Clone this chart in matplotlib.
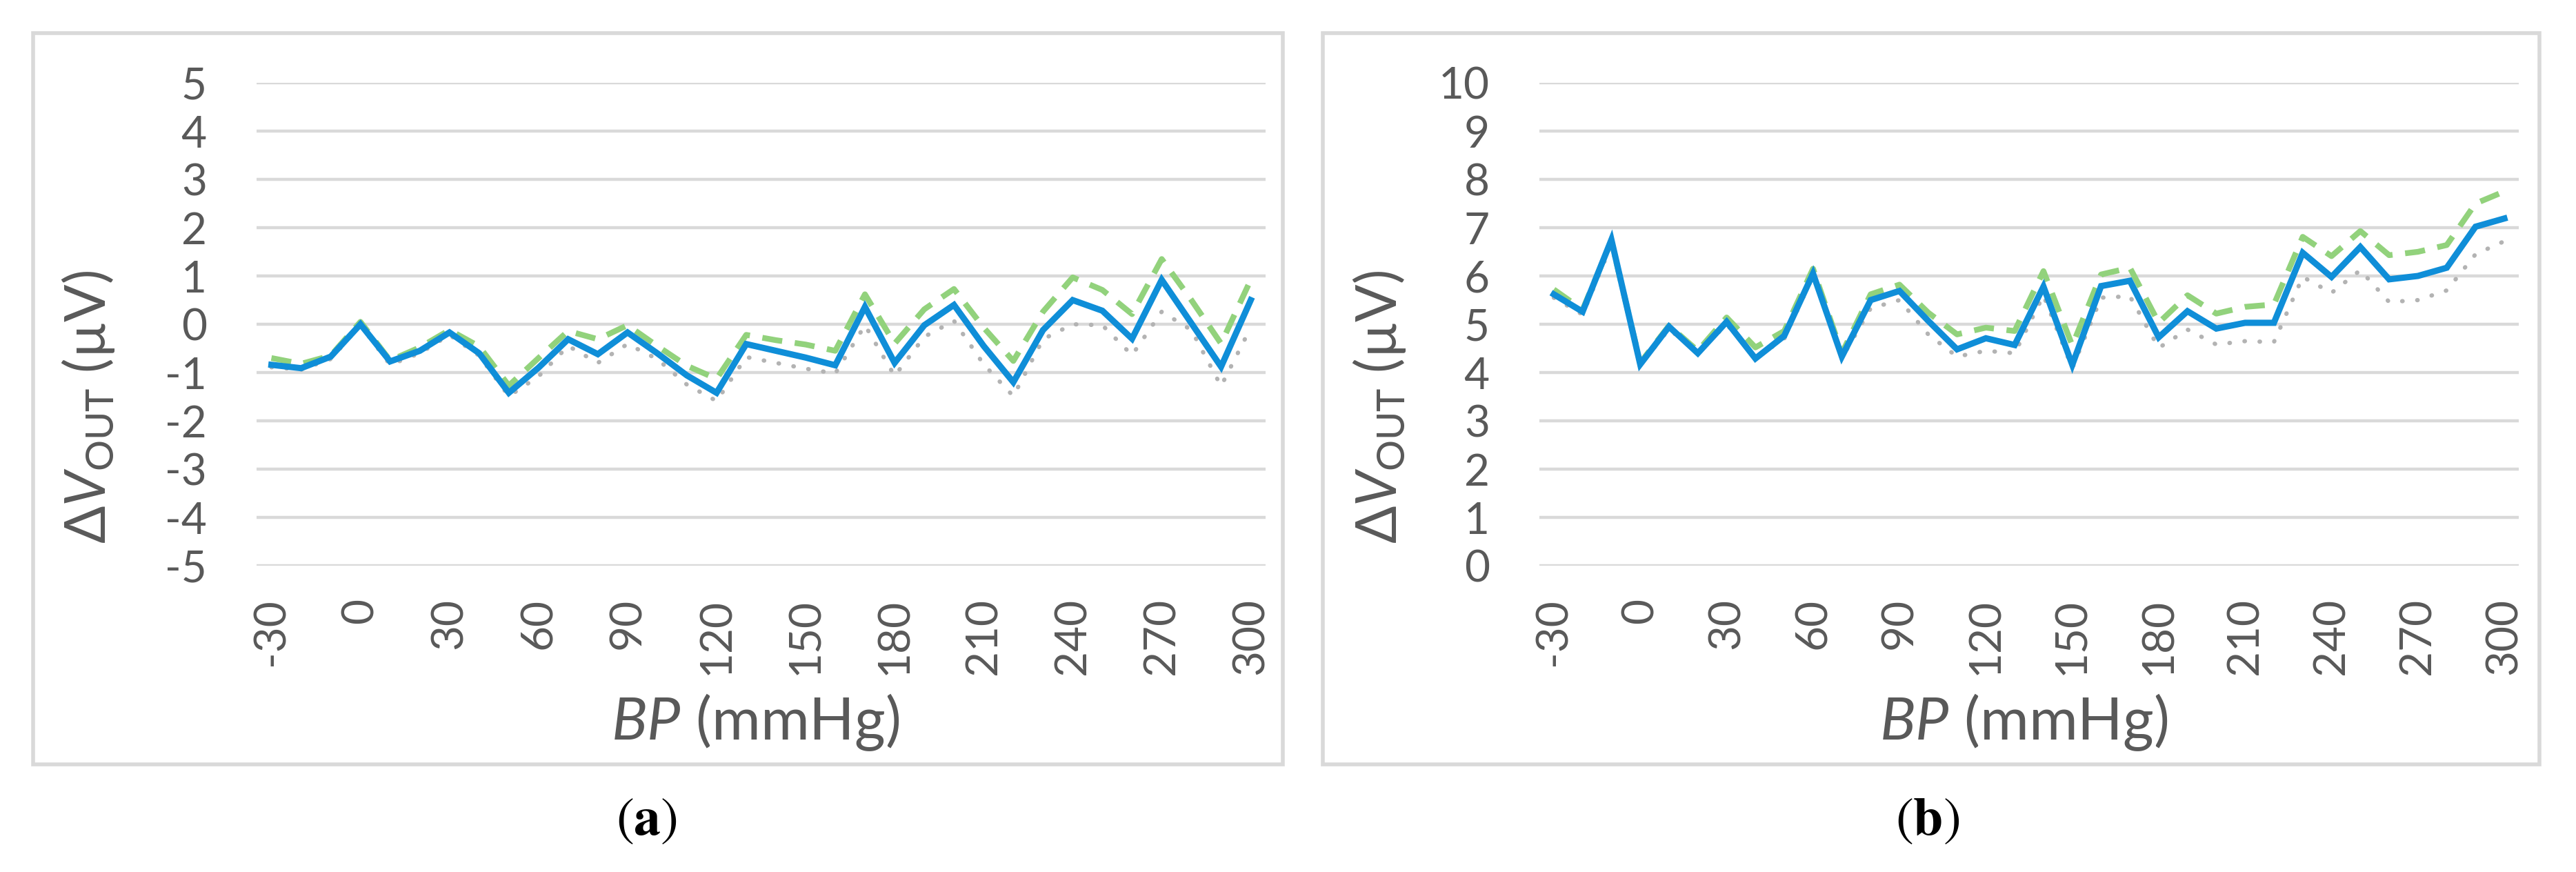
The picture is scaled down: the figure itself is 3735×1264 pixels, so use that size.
import numpy as np
import matplotlib
matplotlib.use('Agg')
import matplotlib.pyplot as plt
from matplotlib.patches import Rectangle

# BP categories (mmHg)
bp = [-30, -20, -10, 0, 10, 20, 30, 40, 50, 60, 70, 80, 90, 100, 110, 120, 130,
      140, 150, 160, 170, 180, 190, 200, 210, 220, 230, 240, 250, 260, 270, 280, 290, 300]

# panel (a)
a_solid = [-0.84, -0.91, -0.67, 0.0, -0.77, -0.55, -0.17, -0.6, -1.42, -0.9, -0.31, -0.62,
           -0.17, -0.6, -1.06, -1.42, -0.41, -0.55, -0.69, -0.85, 0.36, -0.8, -0.02, 0.4,
           -0.45, -1.2, -0.12, 0.5, 0.28, -0.3, 0.92, 0.02, -0.88, 0.5]
a_dash = [-0.7, -0.82, -0.65, 0.05, -0.75, -0.48, -0.12, -0.46, -1.27, -0.7, -0.14, -0.31,
          -0.02, -0.45, -0.86, -1.13, -0.22, -0.33, -0.42, -0.55, 0.62, -0.4, 0.31, 0.73,
          -0.07, -0.76, 0.26, 0.97, 0.71, 0.21, 1.35, 0.5, -0.4, 0.92]
a_dot = [-0.89, -0.94, -0.72, -0.02, -0.84, -0.6, -0.22, -0.65, -1.49, -1.08, -0.45, -0.8,
         -0.41, -0.72, -1.25, -1.59, -0.68, -0.8, -0.92, -1.02, -0.02, -1.07, -0.26, 0.07,
         -0.83, -1.49, -0.31, 0.0, -0.02, -0.64, 0.26, -0.12, -1.28, -0.07]

# panel (b)
b_solid = [5.62, 5.26, 6.75, 4.17, 4.95, 4.4, 5.05, 4.29, 4.76, 6.05, 4.33, 5.5, 5.69, 5.07,
           4.48, 4.71, 4.57, 5.78, 4.16, 5.79, 5.9, 4.73, 5.27, 4.91, 5.03, 5.03, 6.48, 5.98,
           6.6, 5.93, 6.0, 6.17, 7.02, 7.19]
b_dash = [5.72, 5.3, 6.72, 4.2, 4.97, 4.45, 5.14, 4.52, 4.86, 6.15, 4.4, 5.62, 5.82, 5.24,
          4.79, 4.93, 4.86, 6.1, 4.56, 6.03, 6.17, 5.03, 5.6, 5.22, 5.36, 5.41, 6.81, 6.41,
          6.93, 6.43, 6.5, 6.64, 7.5, 7.75]
b_dot = [5.55, 5.2, 6.65, 4.15, 4.9, 4.4, 5.0, 4.3, 4.7, 6.0, 4.3, 5.33, 5.5, 4.79, 4.33,
         4.45, 4.4, 5.6, 4.09, 5.55, 5.58, 4.51, 4.89, 4.58, 4.65, 4.63, 5.98, 5.65, 6.12,
         5.46, 5.5, 5.7, 6.45, 6.72]

a_yticks = list(range(-5, 6))
b_yticks = list(range(0, 11))

plt.rcParams['font.family'] = ['Lato', 'DejaVu Sans']
plt.rcParams['mathtext.fontset'] = 'custom'
plt.rcParams['mathtext.rm'] = 'Lato'
plt.rcParams['mathtext.it'] = 'Lato:italic'
plt.rcParams['mathtext.bf'] = 'Lato:bold'

W, H = 3735, 1264
TXT = '#595959'
GRID = '#d9d9d9'
BLUE = '#0f8ed8'
GREEN = '#92d27c'
GRAY = '#b3b3b3'

fig = plt.figure(figsize=(W / 100, H / 100), dpi=100)
fig.patch.set_facecolor('white')


def px(x, y):
    # pixel position (from top-left) -> figure fraction
    return x / W, 1 - y / H


def panel(left, right, box, solid, dash, dot, yticks, label_x, cap_x, cap):
    x0, y0 = px(left, 820)
    x1, y1 = px(right, 120)
    ax = fig.add_axes([x0, y0, x1 - x0, y1 - y0])
    idx = np.arange(len(bp))

    ax.plot(idx, dot, color=GRAY, lw=4.5, dashes=(0.1, 3.4), dash_capstyle='round', zorder=2)
    ax.plot(idx, dash, color=GREEN, lw=6, dashes=(3.5, 2.2), zorder=3)
    ax.plot(idx, solid, color=BLUE, lw=6.5, solid_joinstyle='miter', zorder=4)

    ax.set_xlim(-0.5, len(bp) - 0.5)
    ax.set_ylim(yticks[0], yticks[-1])
    ax.set_yticks(yticks)
    ax.set_yticklabels([str(t) for t in yticks])
    ax.set_xticks(idx[::3])
    ax.set_xticklabels([str(b) for b in bp[::3]], rotation=90)
    ax.tick_params(length=0, colors=TXT, labelsize=46)
    ax.tick_params(axis='y', pad=52)
    ax.tick_params(axis='x', pad=34)
    ax.yaxis.grid(True, color=GRID, lw=3.2)
    ax.set_axisbelow(True)
    for s in ax.spines.values():
        s.set_visible(False)

    # frame round each chart
    bx0, by1 = px(box[0], box[1])
    bx1, by0 = px(box[2], box[3])
    fig.add_artist(Rectangle((bx0, by0), bx1 - bx0, by1 - by0, transform=fig.transFigure,
                             fill=False, ec=GRID, lw=4))

    lx, ly = px(label_x, 590)
    fig.text(lx, ly, 'Δ$V_{\\mathrm{OUT}}$ (µV)', rotation=90, ha='center', va='center',
             fontsize=58, color=TXT)
    bx, byl = px((left + right) / 2 - 8, 1072)
    fig.text(bx, byl, '$BP$ (mmHg)', ha='center', va='baseline', fontsize=62, color=TXT)
    cx, cy = px(cap_x, 1190)
    fig.text(cx, cy, '$(\\mathbf{' + cap + '})$', ha='center', va='center', fontsize=56,
             color='black', math_fontfamily='stix')
    return ax


panel(372, 1835, (48, 48, 1860, 1108), a_solid, a_dash, a_dot, a_yticks, 128, 937, 'a')
panel(2232, 3652, (1918, 48, 3682, 1108), b_solid, b_dash, b_dot, b_yticks, 2000, 2795, 'b')

fig.savefig('out.png', dpi=100, facecolor='white')
